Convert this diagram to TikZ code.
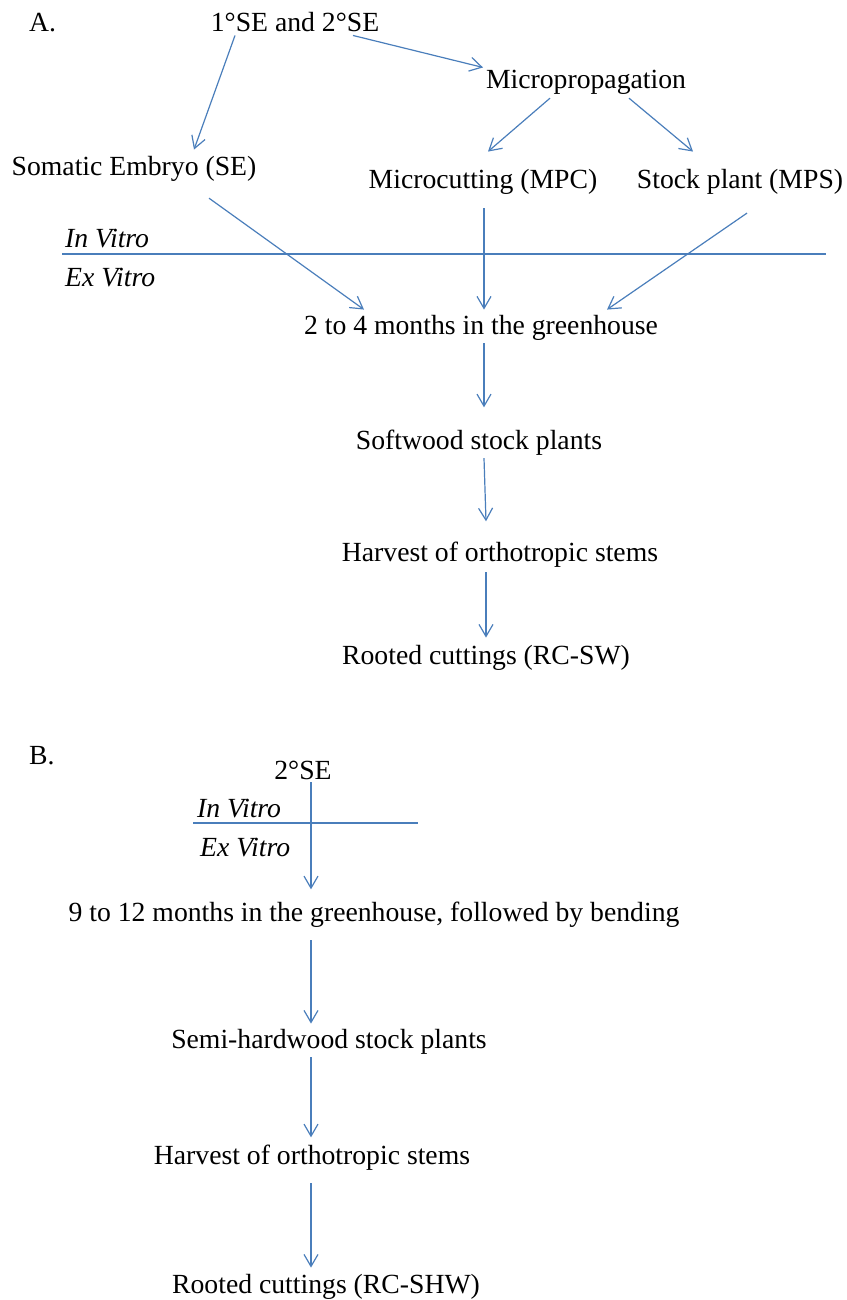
\documentclass[tikz,border=0pt]{standalone}
\usepackage{fontspec}
\setmainfont{Liberation Serif}
\usetikzlibrary{arrows.meta}
\definecolor{flowblue}{HTML}{4A7EBB}
\begin{document}
\begin{tikzpicture}[x=1pt, y=-1pt, every node/.style={inner sep=3pt, font=\fontsize{27.7}{33}\selectfont},
  flow/.style={draw=flowblue, line width=1.2pt, -{Straight Barb[length=12pt,width=14pt]}},
  divider/.style={draw=flowblue, line width=1.2pt}]
\useasboundingbox (0,0) rectangle (846,1300);

% A: in vitro part
\node[anchor=base west] (labA) at (26,32) {A.};
\node[anchor=base] (top) at (295,32) {1°SE and 2°SE};
\node[anchor=base] (micro) at (586,89) {Micropropagation};
\node[anchor=base] (se) at (134,176) {Somatic Embryo (SE)};
\node[anchor=base] (mpc) at (483,189) {Microcutting (MPC)};
\node[anchor=base] (mps) at (740,189) {Stock plant (MPS)};

\draw[flow] ([xshift=-60pt]top.south) -- ([xshift=60pt,yshift=4pt]se.north);
\draw[flow] ([xshift=58pt]top.south) -- ([xshift=-103pt]micro.north);
\draw[flow] ([xshift=-36pt]micro.south) -- ([xshift=5pt,yshift=15pt]mpc.north);
\draw[flow] ([xshift=43pt]micro.south) -- ([xshift=-47pt,yshift=15pt]mps.north);

% A: divider
\node[anchor=base west, font=\fontsize{27.7}{33}\selectfont\itshape] (inv) at (62,247) {In Vitro};
\draw[divider] (62,254) -- (826,254);
\node[anchor=base west, font=\fontsize{27.7}{33}\selectfont\itshape] (exv) at (62,286) {Ex Vitro};

% A: ex vitro part
\node[anchor=base] (green) at (481,334) {2 to 4 months in the greenhouse};
\node[anchor=base] (soft) at (479,449) {Softwood stock plants};
\node[anchor=base] (harv) at (500,561) {Harvest of orthotropic stems};
\node[anchor=base] (rcsw) at (486,664) {Rooted cuttings (RC-SW)};

\draw[flow] ([xshift=75pt,yshift=-13pt]se.south) -- ([xshift=-117pt,yshift=2pt]green.north);
\draw[flow] ([xshift=1pt,yshift=-10pt]mpc.south) -- ([xshift=3pt,yshift=2pt]green.north);
\draw[flow] ([xshift=7pt,yshift=-15pt]mps.south) -- ([xshift=126pt,yshift=2pt]green.north);
\draw[flow] ([xshift=3pt]green.south) -- ([xshift=5pt,yshift=19pt]soft.north);
\draw[flow] ([xshift=5pt]soft.south) -- ([xshift=-14pt,yshift=17pt]harv.north);
\draw[flow] ([xshift=-14pt,yshift=-2pt]harv.south) -- ([yshift=4pt]rcsw.north);

% B
\node[anchor=base west] (labB) at (26,764) {B.};
\node[anchor=base] (se2) at (303,779) {2°SE};
\node[anchor=base west, font=\fontsize{27.7}{33}\selectfont\itshape] (inv2) at (194,817) {In Vitro};
\draw[divider] (193,823) -- (418,823);
\node[anchor=base west, font=\fontsize{27.7}{33}\selectfont\itshape] (exv2) at (197,856) {Ex Vitro};
\node[anchor=base] (green2) at (374,921) {9 to 12 months in the greenhouse, followed by bending};
\node[anchor=base] (semi) at (329,1048) {Semi-hardwood stock plants};
\node[anchor=base] (harv2) at (312,1164) {Harvest of orthotropic stems};
\node[anchor=base] (rcshw) at (326,1293) {Rooted cuttings (RC-SHW)};

\draw[flow] ([xshift=8pt]se2.south) -- ([xshift=-63pt,yshift=9pt]green2.north);
\draw[flow] ([xshift=-63pt,yshift=-10pt]green2.south) -- ([xshift=-18pt,yshift=2pt]semi.north);
\draw[flow] ([xshift=-18pt]semi.south) -- ([xshift=-1pt,yshift=4pt]harv2.north);
\draw[flow] ([xshift=-1pt,yshift=-10pt]harv2.south) -- ([xshift=-15pt,yshift=3pt]rcshw.north);
\end{tikzpicture}
\end{document}
